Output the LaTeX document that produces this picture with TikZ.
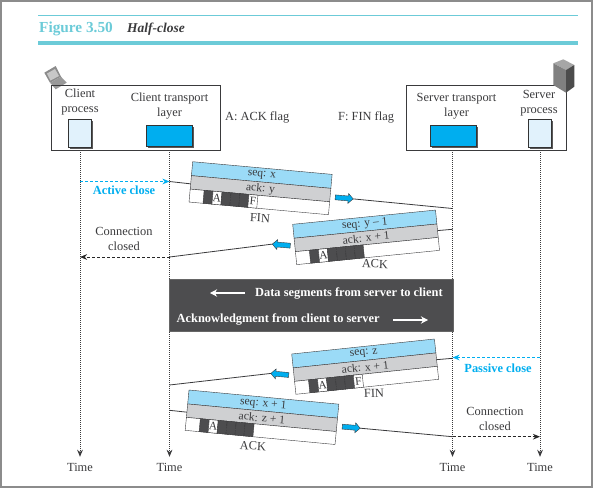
\documentclass[tikz,border=0pt]{standalone}
\usepackage{xcolor}
\usepackage{fontspec}
\setmainfont{Liberation Serif}
\usetikzlibrary{arrows.meta, shadows, shapes.arrows}

\definecolor{tealjudul}{HTML}{6CCBD8}
\definecolor{birumuda}{HTML}{9BDBF7}
\definecolor{birutua}{HTML}{00AEEF}
\definecolor{biruisi}{HTML}{E1F2FC}
\definecolor{abu}{HTML}{CFD0D2}
\definecolor{gelap}{HTML}{4D4D4F}
\definecolor{tinta}{HTML}{3A3A3C}

\newcommand{\segmen}[7]{%
  \begin{scope}[shift={#2}, rotate=#3]
    \node[lapisseq, minimum width=#4pt, anchor=north west] (#1seq) at (0,0) {#5};
    \node[lapisack, minimum width=#4pt, anchor=north west] (#1ack) at (0,14) {#6};
    \node[lapisflag, minimum width=#4pt, anchor=north west] (#1flag) at (0,27.5) {};
    \foreach \gaya/\huruf [count=\i] in {#7}
      \node[\gaya, anchor=north west] (#1c\i) at (5+9*\i,27.5) {\huruf};
  \end{scope}
}

\begin{document}
\begin{tikzpicture}[
    x=1pt, y=-1pt,
    font=\fontsize{12.4}{15}\selectfont\color{tinta},
    teks/.style={align=center, inner sep=0pt},
    lapisseq/.style={draw=tinta, transform shape, fill=birumuda, minimum height=14pt,
                     inner sep=0pt, outer sep=0pt, font=\fontsize{11.6}{13}\selectfont\color{tinta}},
    lapisack/.style={lapisseq, fill=abu, minimum height=13.5pt},
    lapisflag/.style={lapisseq, fill=white, minimum height=13pt},
    sel/.style={draw=tinta, transform shape, minimum width=9pt, minimum height=13pt,
                inner sep=0pt, outer sep=0pt, font=\fontsize{11.6}{13}\selectfont\color{tinta}},
    gelapsel/.style={sel, fill=gelap},
    putihsel/.style={sel, fill=white},
    kotak/.style={draw=tinta, thick, inner sep=0pt},
    proses/.style={draw=black!80, line width=1pt, fill=biruisi, minimum width=23pt,
                   minimum height=28pt, inner sep=0pt,
                   general shadow={shadow xshift=1.6pt, shadow yshift=-1.6pt, fill=black!65}},
    transpor/.style={proses, fill=birutua, minimum width=46pt, minimum height=21pt},
    garishidup/.style={dash pattern=on 1pt off 1pt, line width=0.9pt, draw=tinta,
                       -{Stealth[length=2.5mm, width=2mm]}},
    waktulabel/.style={teks, outer sep=6pt},
    panahbiru/.style={single arrow, draw=tinta, fill=birutua, inner sep=0pt, minimum height=18pt,
                      text height=4.5pt, text depth=0pt, text width=0pt,
                      single arrow head extend=2.5pt,
                      single arrow tip angle=90, outer sep=0pt},
    garis/.style={draw=tinta, thick},
    tutup/.style={dash pattern=on 3pt off 2pt, line width=1pt, draw=black!85,
                  -{Stealth[length=2.5mm, width=2mm]}},
    birudash/.style={dash pattern=on 3pt off 2pt, line width=1pt, draw=birutua,
                     -{Stealth[length=2.5mm, width=2mm]}},
    birujudul/.style={teks, font=\fontsize{12.4}{15}\selectfont\bfseries\color{birutua}},
    teksputih/.style={teks, font=\fontsize{12.4}{15}\selectfont\bfseries\color{white}},
    panahputih/.style={draw=white, line width=1.6pt, -{Stealth[length=2.5mm, width=2.6mm]}}
  ]
    \useasboundingbox (0,0) rectangle (593,488);
    \node[draw=black!45, line width=1.5pt, minimum width=591pt, minimum height=486pt,
          inner sep=0pt] (bingkai) at (296.5,244) {};

    \coordinate (rule1a) at (38,15);
    \coordinate (rule1b) at (578,15);
    \coordinate (rule2a) at (38,43);
    \coordinate (rule2b) at (578,43);
    \draw[tealjudul, thick] (rule1a) -- (rule1b);
    \draw[tealjudul, line width=3.5pt] (rule2a) -- (rule2b);
    \node[teks, anchor=west, font=\fontsize{15.3}{18}\selectfont\bfseries\color{tealjudul}]
      (nomor) at (39,29) {Figure 3.50};
    \node[teks, anchor=west, font=\fontsize{13.5}{16}\selectfont\bfseries\itshape\color{tinta}]
      (judul) at (127,29.5) {Half-close};

    \fill[black!45] (44.3,72.7) -- (55.7,66) -- (61,76.7) -- (50,82.7) -- cycle;
    \fill[black!22] (47,73.5) -- (55,69) -- (59,76) -- (50.5,80.5) -- cycle;
    \fill[black!40] (50,82.7) -- (61,76.7) -- (66.7,82.7) -- (55.7,89.3) -- cycle;

    \node[kotak, minimum width=169pt, minimum height=65pt] (kotakklien) at (135.5,117.5) {};
    \node[kotak, minimum width=160pt, minimum height=65pt] (kotakserver) at (486,117.5) {};

    \fill[black!35] (553.3,63.3) -- (563.3,59.3) -- (574.3,65) -- (566,70) -- cycle;
    \fill[black!50] (553.3,63.3) -- (566,70) -- (566,92.7) -- (553.3,85) -- cycle;
    \fill[black!70] (566,70) -- (574.3,65) -- (574.3,86.7) -- (566,92.7) -- cycle;

    \node[proses] (klienproses) at (80,133) {};
    \node[transpor] (klientranspor) at (169.5,135.5) {};
    \node[transpor] (servertranspor) at (453.5,135.5) {};
    \node[proses] (serverproses) at (540,133) {};

    \node[teks] (lblklienproses) at (80,102) {Client\\process};
    \node[teks] (lblklientranspor) at (169.5,106.5) {Client transport\\layer};
    \node[teks] (lblservertranspor) at (456.5,106.5) {Server transport\\layer};
    \node[teks] (lblserverproses) at (539,103) {Server\\process};
    \node[teks, anchor=west] (flaga) at (225,117) {A: ACK flag};
    \node[teks, anchor=west] (flagf) at (338,117) {F: FIN flag};

    \node[waktulabel] (waktua) at (80,467) {Time};
    \node[waktulabel] (waktub) at (169.5,467) {Time};
    \node[waktulabel] (waktuc) at (452.5,467) {Time};
    \node[waktulabel] (waktud) at (540,467) {Time};
    \draw[garishidup] (klienproses |- kotakklien.south) -- (waktua.north);
    \draw[garishidup] (klientranspor |- kotakklien.south) -- (waktub.north);
    \draw[garishidup] (waktuc |- kotakserver.south) -- (waktuc.north);
    \draw[garishidup] (serverproses |- kotakserver.south) -- (waktud.north);

    \coordinate (a1) at (80,181.5);
    \coordinate (a2) at (169.5,181.5);
    \draw[birudash] (a1) -- (a2);
    \node[birujudul] (aktif) at (124,190) {Active close};
    \coordinate (p1) at (540,357.5);
    \coordinate (p2) at (452.5,357.5);
    \draw[birudash] (p1) -- (p2);
    \node[birujudul] (pasif) at (498,368) {Passive close};

    \coordinate (s1kiri) at (169.5,181.5);
    \coordinate (s1kanan) at (452.5,208.5);
    \draw[garis] (s1kiri) -- (192,184);
    \node[panahbiru, rotate=-5] (panah1) at (343,198) {};
    \draw[garis] (panah1.tip) -- (s1kanan);
    \segmen{fina}{(192.7,161.7)}{-5.2}{140}{seq: x}{ack: y}
      {gelapsel/,putihsel/A,gelapsel/,gelapsel/,gelapsel/,putihsel/F}
    \node[teks, rotate=-3] (namafina) at (260,218) {FIN};

    \coordinate (s2kanan) at (452.5,229.3);
    \coordinate (s2kiri) at (169.5,257);
    \draw[garis] (435,230.8) -- (s2kanan);
    \node[panahbiru, rotate=175] (panah2) at (282.5,245) {};
    \draw[garis] (panah2.tip) -- (s2kiri);
    \segmen{acka}{(292.7,224.3)}{5.7}{143.5}{seq: y -- 1}{ack: x + 1}
      {gelapsel/,putihsel/A,gelapsel/,gelapsel/,gelapsel/,gelapsel/}
    \node[teks, rotate=-2] (namaacka) at (375,264) {ACK};

    \coordinate (t1) at (169.5,257);
    \coordinate (t2) at (80,257);
    \draw[tutup] (t1) -- (t2);
    \node[teks] (tutupa) at (124,238.5) {Connection\\closed};

    \node[fill=gelap, draw=black!60, minimum width=284pt, minimum height=52pt, inner sep=0pt]
      (data) at (311,305) {};
    \node[teksputih, anchor=west] (dataserver) at (255,293) {Data segments from server to client};
    \node[teksputih, anchor=west] (ackklien) at (176.5,319) {Acknowledgment from client to server};
    \coordinate (d1) at (245,293);
    \coordinate (d2) at (210,293);
    \coordinate (d3) at (393,320);
    \coordinate (d4) at (428,320);
    \draw[panahputih] (d1) -- (d2);
    \draw[panahputih] (d3) -- (d4);

    \coordinate (s3kanan) at (452.5,358.3);
    \coordinate (s3kiri) at (169.5,385);
    \draw[garis] (435,359.8) -- (s3kanan);
    \node[panahbiru, rotate=175] (panah3) at (281,374.3) {};
    \draw[garis] (panah3.tip) -- (s3kiri);
    \segmen{finb}{(291.7,354)}{6}{143.5}{seq: z}{ack: x + 1}
      {gelapsel/,putihsel/A,gelapsel/,gelapsel/,gelapsel/,putihsel/F}
    \node[teks, rotate=2] (namafinb) at (374,393) {FIN};

    \coordinate (s4kiri) at (169.5,410.3);
    \coordinate (s4kanan) at (452.5,436.7);
    \draw[garis] (s4kiri) -- (190,412.5);
    \node[panahbiru, rotate=-5] (panah4) at (350,427.3) {};
    \draw[garis] (panah4.tip) -- (s4kanan);
    \segmen{ackb}{(189,390)}{-5.4}{150.5}{seq: x + 1}{ack: z + 1}
      {gelapsel/,putihsel/A,gelapsel/,gelapsel/,gelapsel/,gelapsel/}
    \node[teks, rotate=-3] (namaackb) at (253,446) {ACK};

    \coordinate (t3) at (540,436.7);
    \draw[tutup] (s4kanan) -- (t3);
    \node[teks] (tutupb) at (495,418.5) {Connection\\closed};
  \end{tikzpicture}
\end{document}
